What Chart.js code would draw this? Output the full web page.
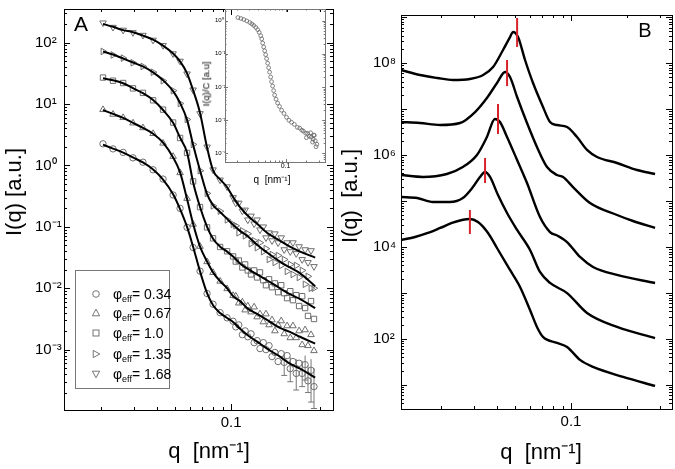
<!DOCTYPE html>
<html>
<head>
<meta charset="utf-8">
<script src="https://cdn.jsdelivr.net/npm/chart.js@4.4.0/dist/chart.umd.min.js"></script>
<style>
  body { margin: 0; background: #fff; }
  #wrap { position: relative; width: 675px; height: 469px; overflow: hidden; background: #fff; }
  canvas { position: absolute; top: 0; }
  .lbl { position: absolute; white-space: pre; line-height: 1; font-family: 'Liberation Sans', Arial, sans-serif; color: #000; transform: translate(-50%, -50%); }
  .rot { transform: translate(-50%, -50%) rotate(-90deg); }
  #legend { position: absolute; left: 75px; top: 270px; width: 93px; height: 117px; border: 1px solid #777; background: #fff; }
  .sym { position: absolute; left: 15px; transform: translateY(-50%); width: 10px; height: 10px; }
  .phi { position: absolute; left: 37px; transform: translateY(-50%); font-family: 'Liberation Sans', Arial, sans-serif; font-size: 14px; line-height: 1; white-space: pre; color: #000; }
  .phi sub { font-size: 9px; vertical-align: -3px; line-height: 0; }
</style>
</head>
<body>
<div id="wrap">
  <canvas id="chartA" width="340" height="469" style="left:0"></canvas>
  <canvas id="chartB" width="335" height="469" style="left:340px"></canvas>
  <canvas id="chartInset" width="140" height="190" style="left:190px"></canvas>

  <div class="lbl" style="left:81px; top:23px; font-size:21px">A</div>
  <div class="lbl" style="left:645px; top:30px; font-size:20px">B</div>
  <div class="lbl" style="left:209px; top:451px; font-size:22px">q  [nm⁻¹]</div>
  <div class="lbl" style="left:541px; top:452px; font-size:22px">q  [nm⁻¹]</div>
  <div class="lbl rot" style="left:14px; top:192px; font-size:22px">I(q) [a.u.]</div>
  <div class="lbl rot" style="left:350px; top:196px; font-size:22px">I(q)  [a.u.]</div>
  <div class="lbl" style="left:272px; top:180px; font-size:10px">q  [nm⁻¹]</div>
  <div class="lbl rot" style="left:206px; top:84px; font-size:9.5px">I(q)/C [a.u]</div>

  <div id="legend"></div>
</div>

<script>
// ---- Panel A: fitted curves (solid lines) ----
const qFitA = [0.0205, 0.0232, 0.0263, 0.0297, 0.0336, 0.0381, 0.0431, 0.0488, 0.0532, 0.058, 0.0625, 0.0681, 0.0743,
  0.08, 0.0873, 0.0952, 0.1025, 0.1118, 0.1219, 0.138, 0.156, 0.183, 0.207, 0.235, 0.283];
const fitA1 = [2.18, 1.88, 1.62, 1.35, 1.12, 0.86, 0.59, 0.34, 0.195, 0.1, 0.0475, 0.0188, 0.0083, 0.0053, 0.00395,
  0.00328, 0.00283, 0.00218, 0.00175, 0.00135, 0.00104, 0.00077, 0.00059, 0.00049, 0.00035];
const fitA2 = [8.0, 6.9, 5.94, 4.94, 4.1, 3.28, 2.35, 1.35, 0.77, 0.283, 0.112, 0.0475, 0.0272, 0.0181, 0.013,
  0.01, 0.00743, 0.00617, 0.00475, 0.00381, 0.00305, 0.00226, 0.00195, 0.00162, 0.00125];
const fitA3 = [26.2, 24.4, 21.8, 18.1, 15.0, 11.6, 8.0, 4.94, 2.83, 1.62, 0.532, 0.21, 0.1, 0.064, 0.0475,
  0.0395, 0.0328, 0.0253, 0.021, 0.0168, 0.0135, 0.01, 0.008, 0.00665, 0.00475];
const fitA4 = [71.6, 64.0, 55.2, 47.5, 41.0, 32.8, 24.4, 16.2, 10.4, 5.52, 2.18, 0.83, 0.34, 0.226, 0.175,
  0.135, 0.108, 0.086, 0.0716, 0.0513, 0.0381, 0.0272, 0.0218, 0.0175, 0.0108];
const fitA5 = [202, 181, 160, 148, 130, 112, 89.5, 66.5, 49.4, 31.6, 16.8, 7.16, 1.95, 0.83, 0.594,
  0.442, 0.305, 0.21, 0.156, 0.112, 0.08, 0.0594, 0.0475, 0.0395, 0.0316];

// ---- Panel A: measured points ----
const qMarkA = [0.0205, 0.0232, 0.0263, 0.0297, 0.0336, 0.0381, 0.0431, 0.0488, 0.0532, 0.058, 0.0625, 0.0681, 0.0743,
  0.08, 0.0873, 0.0952, 0.1025, 0.106, 0.11, 0.115, 0.119, 0.123, 0.128, 0.133, 0.138, 0.143, 0.149, 0.154, 0.16,
  0.166, 0.172, 0.179, 0.186, 0.193, 0.2, 0.208, 0.215, 0.224, 0.232, 0.241, 0.25, 0.259, 0.269, 0.279];
const markA1 = [2.25, 1.86, 1.63, 1.33, 1.13, 0.85, 0.6, 0.33, 0.2, 0.098, 0.046, 0.019, 0.0082, 0.0055, 0.004, 0.0033, 0.0029,
  0.00235, 0.00253, 0.00175, 0.00202, 0.00162, 0.00181, 0.0013, 0.0014, 0.00104, 0.0013, 0.001, 0.00116, 0.00077, 0.0009,
  0.00064, 0.00086, 0.00062, 0.0008, 0.00049, 0.00064, 0.00041, 0.0006, 0.00041, 0.00057, 0.00031, 0.00046, 0.00025];
const markA2 = [8.1, 6.8, 6.0, 4.9, 4.1, 3.3, 2.3, 1.4, 0.76, 0.29, 0.11, 0.048, 0.027, 0.018, 0.013, 0.0098, 0.0076,
  0.00743, 0.00573, 0.00595, 0.00442, 0.00513, 0.0041, 0.00494, 0.00341, 0.00381, 0.00283, 0.00381, 0.00253, 0.00305, 0.00202,
  0.00253, 0.00294, 0.00181, 0.00244, 0.00156, 0.00244, 0.00156, 0.00202, 0.0012, 0.0021, 0.00116, 0.00175, 0.00096];
const markA3 = [27, 24, 22, 18, 15.2, 11.5, 8.1, 5.0, 2.8, 1.6, 0.55, 0.21, 0.098, 0.065, 0.047, 0.04, 0.033,
  0.0272, 0.0283, 0.0218, 0.0244, 0.0195, 0.0168, 0.0195, 0.015, 0.0181, 0.0135, 0.0112, 0.014, 0.0104, 0.012,
  0.00862, 0.0112, 0.00831, 0.0069, 0.00895, 0.0064, 0.00771, 0.00513, 0.00743, 0.00476, 0.00354, 0.00617, 0.00316];
const markA4 = [72, 63, 56, 47, 41, 33, 24, 16.5, 10.2, 5.6, 2.2, 0.82, 0.35, 0.22, 0.18, 0.13, 0.11,
  0.104, 0.08, 0.0862, 0.0716, 0.0771, 0.0532, 0.0595, 0.0458, 0.0552, 0.0395, 0.0442, 0.0294, 0.0354, 0.0263,
  0.0341, 0.0235, 0.0294, 0.0188, 0.0244, 0.0168, 0.0235, 0.015, 0.0195, 0.0116, 0.0156, 0.01, 0.01];
const markA5 = [210, 178, 160, 146, 132, 110, 90, 66, 50, 31, 17, 7.0, 2.0, 0.85, 0.58, 0.45, 0.3,
  0.244, 0.244, 0.181, 0.188, 0.13, 0.15, 0.112, 0.13, 0.0895, 0.1, 0.0665, 0.08, 0.0595, 0.0771,
  0.0552, 0.0665, 0.0425, 0.0552, 0.0395, 0.0552, 0.0367, 0.0476, 0.0294, 0.0425, 0.0263, 0.041, 0.0226];
const phiValues = ['0.34', '0.67', '1.0', '1.35', '1.68'];

// error bars on the lowest curve at high q
const errQ = [0.193, 0.208, 0.224, 0.241, 0.25, 0.259, 0.269, 0.279];
const errLo = [0.00038, 0.0003, 0.00022, 0.00025, 0.00032, 0.0002, 0.00014, 0.00011];
const errHi = [0.0009, 0.00075, 0.0007, 0.00065, 0.0008, 0.00055, 0.0007, 0.0005];

// ---- Inset: normalised curve ----
const qInset = [0.0206, 0.0228, 0.0251, 0.0277, 0.0306, 0.0327, 0.0349, 0.0373, 0.0398, 0.0418, 0.044, 0.0455, 0.0469,
  0.0485, 0.0501, 0.0518, 0.0535, 0.0553, 0.0572, 0.059, 0.0611, 0.063, 0.0652, 0.0675, 0.0697, 0.073, 0.0769, 0.082,
  0.0877, 0.095, 0.1033, 0.112, 0.122, 0.134, 0.148, 0.16, 0.172, 0.181, 0.195, 0.208, 0.22, 0.235, 0.25, 0.268, 0.283,
  0.2, 0.23, 0.26, 0.275, 0.245, 0.255];
const iInset = [1.23, 1.15, 1.07, 0.97, 0.87, 0.79, 0.71, 0.62, 0.53, 0.44, 0.35, 0.28, 0.21,
  0.16, 0.123, 0.094, 0.071, 0.052, 0.038, 0.028, 0.02, 0.0145, 0.0107, 0.0078, 0.0057, 0.0043, 0.0033, 0.0026,
  0.002, 0.0016, 0.00123, 0.001, 0.00087, 0.00075, 0.00061, 0.00058, 0.0005, 0.00047, 0.00041, 0.0004, 0.00033, 0.00031, 0.00027, 0.00024, 0.00019,
  0.0003, 0.00042, 0.00035, 0.00016, 0.00022, 0.00036];

// ---- Panel B: five structure-factor curves, bottom to top ----
const qB1 = [0.0122, 0.0145, 0.017, 0.0198, 0.0229, 0.0259, 0.0286, 0.0316, 0.0358, 0.04, 0.047, 0.0532, 0.0602,
  0.0656, 0.0707, 0.0841, 0.0952, 0.1118, 0.1313, 0.1905, 0.283];
const iB1 = [1.43e4, 1.66e4, 2.03e4, 2.61e4, 3.35e4, 3.89e4, 4.09e4, 3.52e4, 2.03e4, 9.57e3, 3.18e3, 1.36e3, 429,
  183, 111, 82.2, 67.3, 35.1, 24.7, 15.0, 9.53];
const qB2 = [0.0122, 0.0149, 0.0181, 0.0223, 0.0262, 0.0297, 0.0324, 0.0345, 0.0367, 0.0405, 0.0453, 0.0513, 0.0602,
  0.0681, 0.0771, 0.0952, 0.1219, 0.1767, 0.283];
const iB2 = [1.23e5, 1.17e5, 9.58e4, 9.58e4, 1.17e5, 2.03e5, 3.36e5, 4.31e5, 3.36e5, 1.36e5, 5.52e4, 2.36e4, 8.67e3,
  2.88e3, 1.66e3, 1.0e3, 369, 183, 105];
const qB3 = [0.0122, 0.016, 0.0215, 0.0262, 0.0312, 0.0353, 0.039, 0.0415, 0.0453, 0.0513, 0.058, 0.0681, 0.0771,
  0.0851, 0.0952, 0.1118, 0.1313, 0.1767, 0.283];
const iB3 = [3.71e5, 3.36e5, 3.9e5, 5.53e5, 1.01e6, 2.49e6, 6.14e6, 5.28e6, 2.49e6, 7.87e5, 2.48e5, 4.52e4, 2.13e4,
  1.75e4, 1.29e4, 6.1e3, 3.7e3, 2.48e3, 1.66e3];
const qB4 = [0.0122, 0.0154, 0.0198, 0.0253, 0.0305, 0.0353, 0.04, 0.0442, 0.047, 0.0513, 0.058, 0.0656, 0.0743,
  0.0841, 0.0906, 0.1025, 0.1265, 0.1767, 0.2154, 0.283];
const iB4 = [5.28e6, 5.02e6, 4.54e6, 5.02e6, 8.71e6, 1.76e7, 3.72e7, 6.46e7, 5.02e7, 1.85e7, 5.02e6, 1.51e6, 5.53e5,
  3.71e5, 3.36e5, 2.03e5, 9.12e4, 5.0e4, 3.7e4, 2.61e4];
const qB5 = [0.0122, 0.0154, 0.0191, 0.0232, 0.0286, 0.0337, 0.0381, 0.0431, 0.047, 0.0488, 0.0519, 0.0566, 0.0625,
  0.0707, 0.0771, 0.0841, 0.0952, 0.1077, 0.1219, 0.138, 0.1767, 0.2263, 0.283];
const iB5 = [7.15e7, 5.56e7, 4.79e7, 4.33e7, 4.55e7, 5.56e7, 8.3e7, 1.95e8, 3.73e8, 4.8e8, 3.73e8, 1.18e8, 3.72e7,
  1.12e7, 5.28e6, 4.54e6, 4.11e6, 2.49e6, 1.3e6, 9.14e5, 6.77e5, 4.76e5, 3.9e5];

// red marks at the peak positions
const peakQ = [0.0286, 0.0345, 0.0405, 0.0453, 0.0513];
const peakLo = [1.93e4, 2.48e5, 2.9e6, 3.2e7, 2.26e8];
const peakHi = [6.43e4, 8.69e5, 1.3e7, 1.18e8, 9.68e8];

const FONT = "'Liberation Sans', Arial, Helvetica, sans-serif";
const SUP = { '-': '⁻', '0': '⁰', '1': '¹', '2': '²', '3': '³', '4': '⁴', '5': '⁵', '6': '⁶', '7': '⁷', '8': '⁸', '9': '⁹' };
const pow10Label = v => '10' + String(Math.round(Math.log10(v))).split('').map(c => SUP[c]).join('');
const pts = (qs, vals) => qs.map((q, i) => ({ x: q, y: vals[i] }));

function decades(e0, e1) {
  const out = [];
  for (let e = e0; e <= e1; e++) out.push(Math.pow(10, e));
  return out;
}
function minors(e0, e1) {
  const out = [];
  for (let e = e0; e <= e1; e++) for (let k = 2; k <= 9; k++) out.push(k * Math.pow(10, e));
  return out;
}
const xMinor = [0.02, 0.03, 0.04, 0.05, 0.06, 0.07, 0.08, 0.09, 0.2, 0.3];

// frame round the plot area with inward ticks on all four sides
const boxTicks = {
  id: 'boxTicks',
  afterDatasetsDraw(chart, args, o) {
    const { ctx, chartArea: a } = chart;
    ctx.save();
    ctx.strokeStyle = o.color;
    ctx.lineWidth = 1;
    ctx.beginPath();
    const mark = (scale, vals, len) => {
      vals.forEach(v => {
        const p = Math.round(scale.getPixelForValue(v)) + 0.5;
        if (scale.isHorizontal()) {
          if (p <= a.left + 1 || p >= a.right - 1) return;
          ctx.moveTo(p, a.bottom); ctx.lineTo(p, a.bottom - len);
          ctx.moveTo(p, a.top); ctx.lineTo(p, a.top + len);
        } else {
          if (p <= a.top + 1 || p >= a.bottom - 1) return;
          ctx.moveTo(a.left, p); ctx.lineTo(a.left + len, p);
          ctx.moveTo(a.right, p); ctx.lineTo(a.right - len, p);
        }
      });
    };
    mark(chart.scales.x, o.xMajor, o.major);
    mark(chart.scales.x, o.xMinor, o.minor);
    mark(chart.scales.y, o.yMajor, o.major);
    mark(chart.scales.y, o.yMinor, o.minor);
    ctx.stroke();
    ctx.strokeRect(Math.round(a.left) + 0.5, Math.round(a.top) + 0.5,
      Math.round(a.right - a.left), Math.round(a.bottom - a.top));
    ctx.restore();
  }
};

function logAxis(min, max, labelled, fmt, size, pad, fit, horizontal) {
  return {
    type: 'logarithmic', min, max, bounds: 'data',
    grid: { display: false, drawTicks: false },
    border: { display: false },
    afterBuildTicks: s => { s.ticks = labelled.map(v => ({ value: v })); },
    afterFit: s => { if (horizontal) s.height = fit; else s.width = fit; },
    ticks: {
      autoSkip: false, maxRotation: 0, padding: pad, crossAlign: horizontal ? 'near' : 'far',
      color: '#000', font: { family: FONT, size }, callback: fmt
    }
  };
}

function baseOptions(padding, scales, ticks) {
  return {
    responsive: false, animation: false, events: [],
    layout: { padding },
    plugins: { legend: { display: false }, tooltip: { enabled: false }, boxTicks: ticks },
    scales
  };
}

// ---- Panel A ----
const fitSets = [fitA1, fitA2, fitA3, fitA4, fitA5].map(f => ({
  data: pts(qFitA, f), showLine: true, borderColor: '#000', borderWidth: 2,
  pointRadius: 0, cubicInterpolationMode: 'monotone'
}));
const markerStyles = [
  { pointStyle: 'circle', rotation: 0, radius: 3.2 },
  { pointStyle: 'triangle', rotation: 0, radius: 3.8 },
  { pointStyle: 'rect', rotation: 0, radius: 3.8 },
  { pointStyle: 'triangle', rotation: 90, radius: 3.8 },
  { pointStyle: 'triangle', rotation: 180, radius: 3.8 }
];
const markSets = [markA1, markA2, markA3, markA4, markA5].map((m, i) => ({
  data: pts(qMarkA, m), showLine: false,
  pointStyle: markerStyles[i].pointStyle, rotation: markerStyles[i].rotation,
  pointRadius: markerStyles[i].radius, pointBorderWidth: 1,
  pointBorderColor: '#6e6e6e', pointBackgroundColor: 'rgba(255,255,255,0)'
}));
const errSet = {
  data: errQ.flatMap((q, i) => [{ x: q, y: errLo[i] }, { x: q, y: errHi[i] }, { x: q, y: null }]),
  showLine: true, spanGaps: false, borderColor: '#777', borderWidth: 1, pointRadius: 0
};
const capSet = {
  data: pts(errQ, errLo), showLine: false, pointStyle: 'line', pointRadius: 3,
  pointBorderColor: '#777', pointBorderWidth: 1
};

new Chart(document.getElementById('chartA'), {
  type: 'scatter',
  data: { datasets: [...fitSets, ...markSets, errSet, capSet] },
  options: baseOptions({ left: 35, top: 5, right: 7, bottom: 0 }, {
    x: logAxis(0.01265, 0.353, [0.1], () => '0.1', 15, 4, 59, true),
    y: logAxis(1.04e-4, 353, decades(-3, 2), v => pow10Label(v), 15, 0, 29, false)
  }, { color: '#000', major: 6, minor: 3, xMajor: [0.1], xMinor, yMajor: decades(-4, 2), yMinor: minors(-4, 2) }),
  plugins: [boxTicks]
});

// ---- Inset of panel A ----
new Chart(document.getElementById('chartInset'), {
  type: 'scatter',
  data: {
    datasets: [{
      data: pts(qInset, iInset), showLine: false, pointStyle: 'circle', pointRadius: 1.9,
      pointBorderWidth: 0.8, pointBorderColor: '#666', pointBackgroundColor: 'rgba(255,255,255,0)'
    }]
  },
  options: baseOptions({ left: 25, top: 9, right: 4, bottom: 0 }, {
    x: logAxis(0.01345, 0.3727, [0.1], () => '0.1', 7, 0, 28, true),
    y: logAxis(5.55e-5, 2.22, decades(-4, 0), v => pow10Label(v), 6, 0, 10, false)
  }, { color: '#777', major: 3, minor: 1.5, xMajor: [0.1], xMinor, yMajor: decades(-4, 0), yMinor: minors(-5, 0) }),
  plugins: [boxTicks]
});

// ---- Panel B ----
const peakSets = peakQ.map((q, i) => ({
  data: [{ x: q, y: peakLo[i] }, { x: q, y: peakHi[i] }],
  showLine: true, borderColor: '#d8232a', borderWidth: 2, pointRadius: 0
}));
const curveSets = [[qB1, iB1], [qB2, iB2], [qB3, iB3], [qB4, iB4], [qB5, iB5]].map(([q, v]) => ({
  data: pts(q, v), showLine: true, borderColor: '#000', borderWidth: 2.4,
  pointRadius: 0, cubicInterpolationMode: 'monotone'
}));

new Chart(document.getElementById('chartB'), {
  type: 'scatter',
  data: { datasets: [...peakSets, ...curveSets] },
  options: baseOptions({ left: 33, top: 15, right: 3, bottom: 0 }, {
    x: logAxis(0.01219, 0.349, [0.1], () => '0.1', 15, 4, 60, true),
    y: logAxis(3.0, 1.125e9, [1e2, 1e4, 1e6, 1e8], v => pow10Label(v), 15, 0, 28, false)
  }, { color: '#000', major: 6, minor: 3, xMajor: [0.1], xMinor, yMajor: decades(0, 9), yMinor: minors(0, 9) }),
  plugins: [boxTicks]
});

// ---- Legend of panel A (marker outlines as small svg shapes) ----
const legendShapes = [
  '<circle cx="5" cy="5" r="3.3"/>',
  '<polygon points="5,1.2 8.6,7.8 1.4,7.8"/>',
  '<rect x="2" y="2" width="6" height="6"/>',
  '<polygon points="2.2,1.4 8.8,5 2.2,8.6"/>',
  '<polygon points="1.4,2.2 8.6,2.2 5,8.8"/>'
];
const legendRows = [23, 42, 62, 83, 103];
const legend = document.getElementById('legend');
phiValues.forEach((v, i) => {
  legend.insertAdjacentHTML('beforeend',
    `<svg class="sym" style="top:${legendRows[i]}px" viewBox="0 0 10 10"><g fill="none" stroke="#666" stroke-width="0.9">${legendShapes[i]}</g></svg>` +
    `<div class="phi" style="top:${legendRows[i]}px">φ<sub>eff</sub>= ${v}</div>`);
});
</script>
</body>
</html>
